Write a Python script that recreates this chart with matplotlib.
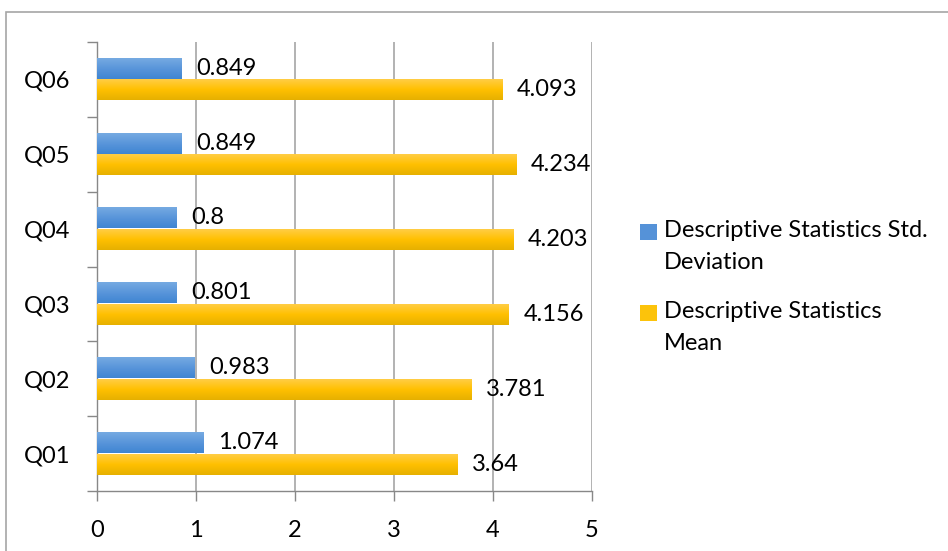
import matplotlib
matplotlib.use("Agg")
import matplotlib.pyplot as plt
from matplotlib.patches import Rectangle
from matplotlib.container import BarContainer
from matplotlib.legend_handler import HandlerPatch
from matplotlib.colors import LinearSegmentedColormap
import numpy as np

categories = ["Q01", "Q02", "Q03", "Q04", "Q05", "Q06"]
std_dev = [1.074, 0.983, 0.801, 0.8, 0.849, 0.849]
mean = [3.64, 3.781, 4.156, 4.203, 4.234, 4.093]
std_labels = ["1.074", "0.983", "0.801", "0.8", "0.849", "0.849"]
mean_labels = ["3.64", "3.781", "4.156", "4.203", "4.234", "4.093"]
series_names = ["Descriptive Statistics Std.\nDeviation", "Descriptive Statistics\nMean"]

plt.rcParams['font.family'] = ['Lato', 'DejaVu Sans']
FS = 17

fig = plt.figure(figsize=(9.48, 5.51), dpi=100)
fig.patches.append(Rectangle((5.5/948, -0.1), 1.2, 1 - 11.5/551 + 0.1, transform=fig.transFigure,
                             fill=False, edgecolor="#a6a6a6", linewidth=1.2, zorder=0))
ax = fig.add_axes([97/948, 1 - 491/551, (592 - 97)/948, (491 - 42)/551])

y = np.arange(len(categories))
h = 0.28
blue = "#5592d8"
yellow = "#fcc30b"
blue_cmap = LinearSegmentedColormap.from_list("b", ["#3f85d2", "#5995da", "#76aae2"])
yellow_cmap = LinearSegmentedColormap.from_list("y", ["#e6b000", "#ffc000", "#ffcd45"])

b1 = ax.barh(y + 0.15, std_dev, height=h, color=blue, zorder=3, label=series_names[0])
b2 = ax.barh(y - 0.14, mean, height=h, color=yellow, zorder=3, label=series_names[1])

grad = np.linspace(0, 1, 64).reshape(-1, 1)
for bars, cmap in ((b1, blue_cmap), (b2, yellow_cmap)):
    for rect in bars:
        x0, y0 = rect.get_x(), rect.get_y()
        w, hh = rect.get_width(), rect.get_height()
        ax.imshow(grad, cmap=cmap, aspect="auto", origin="lower",
                  extent=(x0, x0 + w, y0, y0 + hh), zorder=3.5, interpolation="bilinear")

for rect, lab in zip(b1, std_labels):
    ax.annotate(lab, (rect.get_width(), rect.get_y() + rect.get_height()/2),
                xytext=(15, 0), textcoords="offset pixels", va="center", ha="left", fontsize=FS, color="black")
for rect, lab in zip(b2, mean_labels):
    ax.annotate(lab, (rect.get_width(), rect.get_y() + rect.get_height()/2),
                xytext=(15, 0), textcoords="offset pixels", va="center", ha="left", fontsize=FS, color="black")

ax.set_xlim(0, 5)
ax.set_ylim(-0.5, 5.5)
ax.set_xticks(range(6))
ax.set_yticks(y)
ax.set_yticklabels(categories)
ax.set_yticks(np.arange(-0.5, 6, 1), minor=True)
ax.tick_params(axis="y", which="major", length=0, pad=19, labelsize=FS)
ax.tick_params(axis="y", which="minor", length=7, color="#888888", width=1)
ax.tick_params(axis="x", which="major", length=7, color="#888888", width=1, pad=14, labelsize=FS)
ax.grid(axis="x", color="#a6a6a6", linewidth=1.2, zorder=0)
for s in ["top", "right"]:
    ax.spines[s].set_visible(False)
for s in ["left", "bottom"]:
    ax.spines[s].set_color("#888888")
    ax.spines[s].set_linewidth(1)


class TopSquare(HandlerPatch):
    def create_artists(self, legend, orig_handle, xdescent, ydescent, width, height, fontsize, trans):
        src = orig_handle.patches[0] if isinstance(orig_handle, BarContainer) else orig_handle
        side = height
        p = Rectangle((-xdescent, -ydescent + 0.62 * fontsize), side, side,
                      facecolor=src.get_facecolor(), edgecolor="none", transform=trans)
        return [p]


leg = fig.legend(handles=[b1, b2], loc="center left", bbox_to_anchor=(619/948, 1 - 287/551),
                 frameon=False, fontsize=FS, handlelength=0.7, handleheight=0.7,
                 handletextpad=0.3, labelspacing=1.15,
                 handler_map={BarContainer: TopSquare()})
for t in leg.get_texts():
    t.set_linespacing(1.7)

fig.savefig("out.png", dpi=100)
